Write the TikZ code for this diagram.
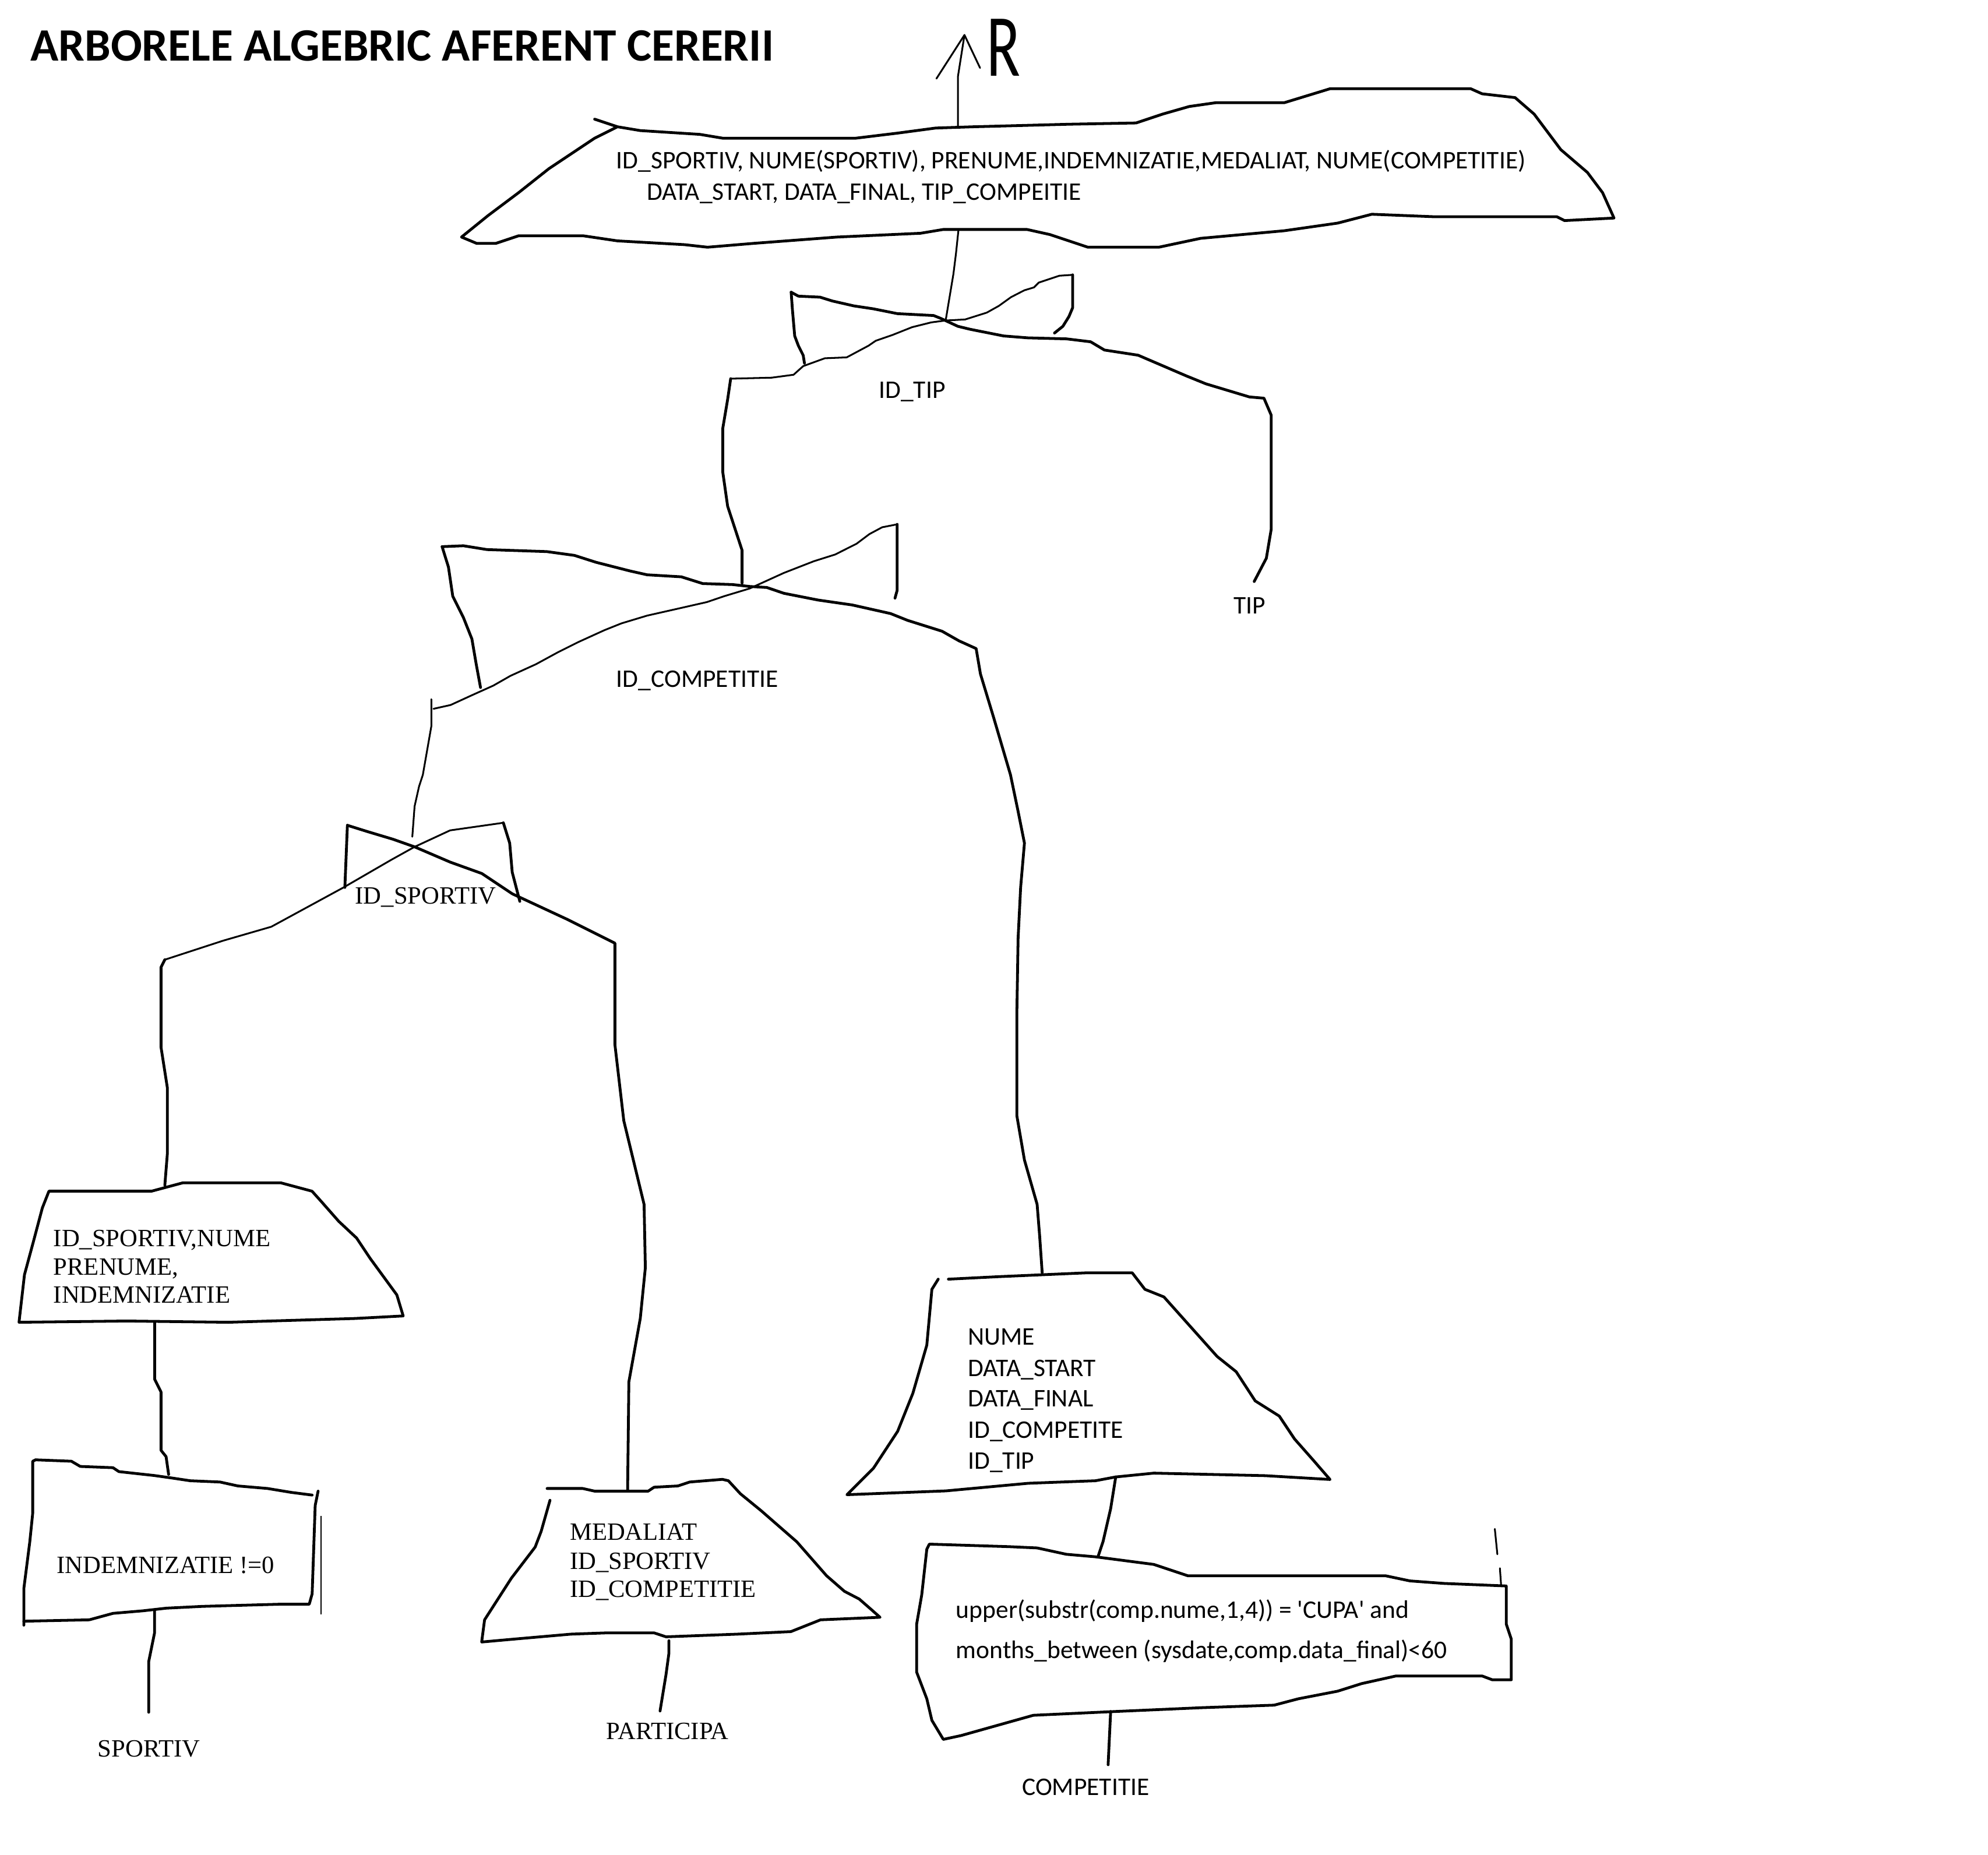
\documentclass[tikz,border=0pt]{standalone}
\usepackage{fontspec}
\setmainfont{Carlito}
\newfontfamily\timesrm{Liberation Serif}
\usepackage{tikz}
\usetikzlibrary{calc}
\tikzstyle{outline} = [line width=2.2pt, line join=round, line cap=round]
\tikzstyle{thinline} = [line width=1.4pt, line join=round, line cap=round]
\tikzstyle{label} = [anchor=base west, inner sep=0pt, font=\fontsize{20}{23}\selectfont]
\tikzstyle{serif label} = [anchor=base west, inner sep=0pt, font=\timesrm\fontsize{19.6}{22}\selectfont]

\begin{document}
\begin{tikzpicture}[x=1pt,y=-1pt]
        \useasboundingbox (0,0) rectangle (1568,1463);
        \node (title) [label, font=\bfseries\fontsize{36.6}{40}\selectfont] at (23.8,47.8) {ARBORELE ALGEBRIC AFERENT CERERII};
        % result arrow
        \coordinate (res) at (760.7,27.6);
        \draw [thinline] (755.6,100) -- (755.6,60) -- (res);
        \draw [thinline] (738.6,62) -- (res) -- (773,53.6);
        \node (rel) [label, font=\fontsize{70}{72}\selectfont, xscale=0.7, anchor=north west] at (778,15) {R};
        % projection (cloud)
        \draw [outline] (469,94) -- (487,100) -- (505,103) -- (552,106) -- (570,109) -- (675,109) -- (708,105) -- (738,101) -- (768,100) -- (843,98) -- (896,97) -- (917,90) -- (938,84) -- (959,81) -- (1013,81) -- (1049,70) -- (1160,70) -- (1169,74) -- (1195,77) -- (1210,90) -- (1231,118) -- (1252,136) -- (1264,152) -- (1273,172) -- (1234,174) -- (1228,171) -- (1132,171) -- (1082,169) -- (1055,176) -- (1013,182) -- (947,188) -- (914,195) -- (858,195) -- (828,185) -- (810,181) -- (744,181) -- (726,184) -- (660,187) -- (594,192) -- (558,195) -- (540,193) -- (487,190) -- (460,186) -- (409,186) -- (391,192) -- (376,192) -- (364,187) -- (385,170) -- (409,152) -- (433,133) -- (451,121) -- (469,109) -- (487,100);
        \node (proj1) [label] at (486,133) {ID\_SPORTIV, NUME(SPORTIV), PRENUME,INDEMNIZATIE,MEDALIAT, NUME(COMPETITIE)};
        \node (proj2) [label] at (510,158) {DATA\_START, DATA\_FINAL, TIP\_COMPEITIE};
        % join ID_TIP
        \coordinate (cloud-bot) at (756,181);
        \coordinate (x-tip) at (746,252);
        \draw [thinline] (cloud-bot) -- (754,200) -- (752,216) -- (x-tip);
        \draw [outline] (624,230.5) -- (629.7,233.6) -- (646.8,234.4) -- (656.4,237.4) -- (673.5,241.3) -- (688.8,243.6) -- (707.8,247.4) -- (736.4,248.9) -- (742.1,251.2) -- (755.5,257.4) -- (765,259.7) -- (791.6,265) -- (810.7,266.5) -- (841.2,267.3) -- (860.2,269.6) -- (871.1,276.1) -- (897.7,280.2) -- (935.9,296.6) -- (951.2,302.8) -- (985.4,313.1) -- (996.9,314.1) -- (1002.6,327.4) -- (1002.6,417.7) -- (998.8,440.3) -- (989.2,458.7);
        \draw [outline] (624,230.5) -- (625,244.3) -- (626.8,265) -- (629.7,272.7) -- (633.5,280.3) -- (634.5,286.5);
        \draw [outline] (846,216.8) -- (846,242.8) -- (843.1,249.7) -- (838.3,257.4) -- (831.7,262.7);
        \draw [thinline] (846,216.8) -- (835.5,217.5) -- (819.3,222.9) -- (815.5,226.7) -- (807.9,229) -- (797.4,234.4) -- (787.8,241.3) -- (778.3,246.6) -- (761.2,252) -- (745.9,252.8) -- (734.5,254.3) -- (719.3,258.1) -- (704,264.2) -- (690.7,268.8) -- (685,272.7) -- (667.8,281.9) -- (650.6,282.6) -- (633.5,288.8) -- (625.9,295.6) -- (608.7,297.9) -- (576.3,298.7);
        \draw [outline] (576.3,298.7) -- (573.9,315.1) -- (570.1,337.7) -- (570.1,372.6) -- (573.9,399.3) -- (585.3,434.1) -- (585.3,460);
        \node (on-tip) [label] at (693,314) {ID\_TIP};
        \node (tip) [label] at (973,484) {TIP};
        % join ID_COMPETITIE
        \draw [outline] (348.7,431.2) -- (365.5,430.5) -- (384.1,433.5) -- (431.3,435.1) -- (453.1,438.1) -- (470,443.5) -- (497,450.4) -- (510.4,453.4) -- (537.4,455) -- (554.2,460.3) -- (577.9,461.1) -- (591.3,462.6) -- (604.8,463.4) -- (618.3,468) -- (645.2,473.3) -- (672.2,477.2) -- (702.5,484) -- (716,489.4) -- (743,497.9) -- (756.4,505.5) -- (769.9,511.6) -- (773.3,531.6) -- (783.5,565.3) -- (797,611.2) -- (803,640) -- (808,665) -- (805,700) -- (803,740) -- (802,800) -- (802,880) -- (808,915) -- (818,950) -- (820,975) -- (822,1004);
        \draw [outline] (348.7,431.2) -- (353.7,447.3) -- (357.1,470.3) -- (365.5,487.1) -- (372.2,504) -- (375.6,523.9) -- (379,542.3);
        \draw [outline] (707.6,413.6) -- (707.6,465.7) -- (705.9,471.8);
        \draw [thinline] (707.6,413.6) -- (695.8,415.9) -- (685.7,421.3) -- (675.6,428.9) -- (658.7,437.4) -- (641.9,442.7) -- (618.3,451.9) -- (601.4,459.6) -- (591.3,464.2) -- (571.1,470.3) -- (557.6,474.9) -- (537.4,479.5) -- (510.4,485.6) -- (490.2,491.7) -- (476.7,497.1) -- (456.5,506.3) -- (439.7,514.7) -- (422.8,523.9) -- (402.6,533.1) -- (389.1,540.8) -- (372.2,548.4) -- (355.4,556.1) -- (341.9,559.1);
        \draw [thinline] (340.2,551.5) -- (340.2,572.9) -- (333.5,611.2) -- (330.5,620.4) -- (327,636) -- (325.2,660);
        \node (on-comp) [label] at (486,542) {ID\_COMPETITIE};
        % join ID_SPORTIV
        \draw [outline] (274,651) -- (290,656) -- (310,662) -- (327,668) -- (355,680) -- (380,689) -- (404,705) -- (447,725) -- (485,744) -- (485,824) -- (492,884) -- (508,950) -- (509,1000) -- (505,1040) -- (496,1090) -- (495,1176);
        \draw [outline] (274,651) -- (272,700);
        \draw [outline] (397,649) -- (402,665) -- (404,688) -- (410,711);
        \draw [thinline] (397,649) -- (355,655) -- (327,668) -- (309,678) -- (271,700) -- (214,731) -- (176,742) -- (130,757);
        \draw [outline] (130,757) -- (127,763) -- (127,826) -- (132,858) -- (132,910) -- (130,935);
        \node (on-sport) [serif label] at (280,713) {ID\_SPORTIV};
        % projection on SPORTIV
        \draw [outline] (38.6,939.6) -- (119.5,939.6) -- (144.2,933) -- (221.5,933) -- (246.1,939.6) -- (253.2,947.5) -- (267.2,963.4) -- (281.3,976.6) -- (291.8,992.4) -- (313,1021.4) -- (318,1038) -- (280,1040) -- (180,1043) -- (100,1042) -- (15,1043) -- (19.3,1005.5) -- (26.4,979.2) -- (33.4,952.8) -- cycle;
        \node (ps1) [serif label] at (42,983) {ID\_SPORTIV,NUME};
        \node (ps2) [serif label] at (42,1005.5) {PRENUME,};
        \node (ps3) [serif label] at (42,1028) {INDEMNIZATIE};
        \draw [outline] (122,1043) -- (122,1088) -- (127,1098) -- (127,1144) -- (131,1149) -- (133,1163);
        % selection on SPORTIV
        \draw [outline] (28.1,1151.5) -- (56.3,1152.6) -- (63.3,1156.7) -- (89.1,1157.7) -- (93.8,1160.8) -- (121.9,1163.9) -- (136,1165.9) -- (150,1168) -- (173.5,1169) -- (187.6,1172.1) -- (211,1174.1) -- (229.8,1177.2) -- (246.2,1179.3);
        \draw [outline] (250.9,1176.2) -- (248.6,1187.5) -- (246.2,1257.2) -- (243.9,1265.4) -- (220.4,1265.4) -- (159.5,1267.1) -- (131.3,1268.5) -- (112.6,1270.6) -- (89.1,1272.6) -- (70.4,1277.7) -- (18.8,1278.8);
        \draw [outline] (18.8,1281.9) -- (18.8,1253.1) -- (23.5,1216.2) -- (25.8,1193.6) -- (25.8,1152.6) -- (28.1,1151.5);
        \draw [line width=0.7pt] (253.3,1195.7) -- (253.3,1273.6);
        \node (sel-s) [serif label] at (44.5,1241) {INDEMNIZATIE !=0};
        \draw [outline] (121.9,1270.6) -- (121.9,1288) -- (117.3,1310.6) -- (117.3,1350.6);
        \node (sportiv) [serif label] at (77,1386) {SPORTIV};
        % projection on PARTICIPA
        \draw [outline] (431.5,1174.1) -- (459.6,1174.1) -- (469,1176.2) -- (511.2,1176.2) -- (515.9,1173.1) -- (534.7,1172.1) -- (544,1169) -- (569.8,1166.9) -- (574.5,1168) -- (583.9,1178.2) -- (600.3,1191.6) -- (614.4,1203.9) -- (628.5,1216.2) -- (651.9,1242.9) -- (666,1255.2) -- (677.7,1261.3) -- (687.1,1269.5) -- (694.1,1275.7) -- (647.2,1277.7) -- (623.8,1287) -- (581.6,1289) -- (525.3,1291.1) -- (515.9,1288) -- (478.4,1288) -- (450.2,1289) -- (403.3,1293.1) -- (379.9,1295.2) -- (382.2,1277.7) -- (403.3,1244.9) -- (422.1,1220.3) -- (426.8,1208) -- (433.8,1183.4);
        \node (pp1) [serif label] at (449.3,1215) {MEDALIAT};
        \node (pp2) [serif label] at (449.3,1237.6) {ID\_SPORTIV};
        \node (pp3) [serif label] at (449.3,1260) {ID\_COMPETITIE};
        \draw [outline] (527.6,1294.2) -- (527.6,1304) -- (525.3,1320.9) -- (520.6,1349.6);
        \node (participa) [serif label] at (478,1372) {PARTICIPA};
        % projection on COMPETITIE
        \draw [outline] (748,1009) -- (788,1007) -- (857,1004) -- (893,1004) -- (903,1017) -- (918,1023) -- (960,1070) -- (975,1082) -- (990,1105) -- (1009,1117) -- (1021,1135) -- (1036,1152) -- (1049,1167) -- (998,1164) -- (910,1162) -- (880,1165) -- (864,1168) -- (811,1170) -- (746,1176) -- (668,1179) -- (689,1158) -- (708,1129) -- (720,1099) -- (731,1061) -- (735,1017) -- (740,1009);
        \node (pc1) [label] at (763.3,1061) {NUME};
        \node (pc2) [label] at (763.3,1085.5) {DATA\_START};
        \node (pc3) [label] at (763.3,1109.7) {DATA\_FINAL};
        \node (pc4) [label] at (763.3,1134.6) {ID\_COMPETITE};
        \node (pc5) [label] at (763.3,1158.6) {ID\_TIP};
        \draw [outline] (880,1165) -- (876,1190) -- (870,1216) -- (866,1228);
        % selection on COMPETITIE
        \draw [outline] (733,1218) -- (796,1220) -- (818,1221) -- (841,1226) -- (864,1228) -- (910,1234) -- (937,1243) -- (1093,1243) -- (1112,1247) -- (1139,1249) -- (1188,1251) -- (1188,1281) -- (1192,1293) -- (1192,1325) -- (1177,1325) -- (1169,1322) -- (1101,1322) -- (1074,1328) -- (1055,1334) -- (1024,1340) -- (1005,1345) -- (948,1347) -- (880,1350) -- (815,1353) -- (758,1369) -- (744,1372) -- (735,1357) -- (731,1340) -- (723,1319) -- (723,1281) -- (727,1258) -- (731,1222) -- cycle;
        \draw [thinline] (1179,1206) -- (1181,1226);
        \draw [thinline] (1183,1237) -- (1184,1251);
        \node (sc1) [label] at (753.9,1276.6) {upper(substr(comp.nume,1,4)) = \textquotesingle CUPA\textquotesingle{} and};
        \node (sc2) [label] at (753.9,1308) {months\_between (sysdate,comp.data\_final)<60};
        \draw [outline] (876,1350) -- (874,1392);
        \node (competitie) [label] at (806,1416) {COMPETITIE};
    \end{tikzpicture}
\end{document}
